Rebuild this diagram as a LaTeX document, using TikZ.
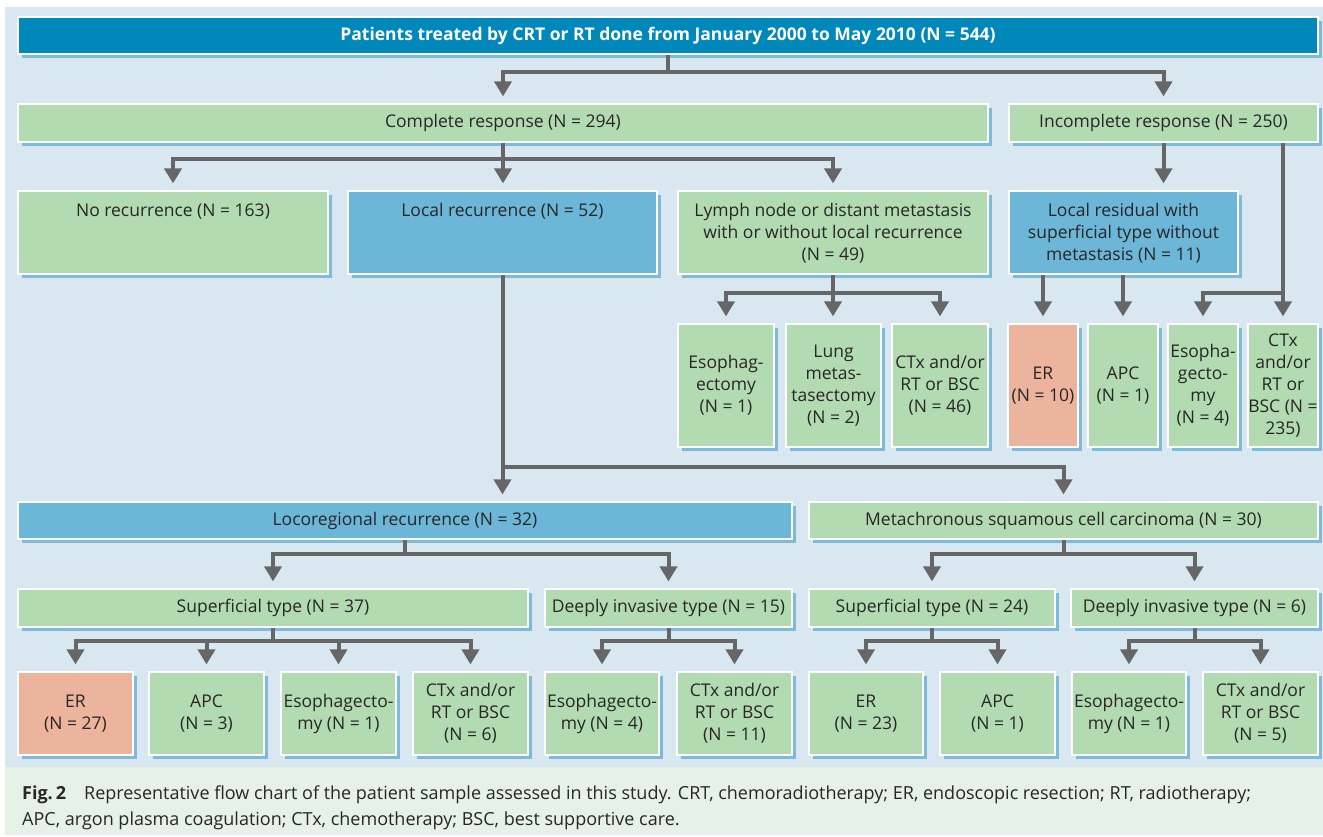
\documentclass[tikz,border=0pt]{standalone}
\usepackage{fontspec}
\setmainfont{Open Sans}
\usetikzlibrary{arrows.meta,shadows}
\definecolor{topblue}{RGB}{0,136,186}
\definecolor{boxgreen}{RGB}{178,219,178}
\definecolor{boxblue}{RGB}{108,183,216}
\definecolor{boxsalmon}{RGB}{236,180,157}
\definecolor{panelblue}{RGB}{216,231,240}
\definecolor{capgreen}{RGB}{230,242,229}
\definecolor{shadowblue}{RGB}{88,168,210}
\definecolor{arrgray}{RGB}{102,102,102}
\definecolor{txtgray}{RGB}{40,38,38}
\newcommand{\toptxt}[2]{\parbox[c][58pt][t]{#1}{\centering #2}}

\begin{document}
\begin{tikzpicture}[x=1pt,y=-1pt,
  font=\fontsize{17.5}{22}\selectfont, text=txtgray,
  cell/.style={draw=white, line width=1.2pt, align=center, inner sep=0pt,
    drop shadow={shadow xshift=4pt, shadow yshift=-4pt, fill=shadowblue, opacity=.7}},
  grnbox/.style={cell, fill=boxgreen},
  bluebox/.style={cell, fill=boxblue},
  salbox/.style={cell, fill=boxsalmon},
  topbox/.style={cell, fill=topblue, text=white, font=\fontsize{17.5}{22}\selectfont\bfseries},
  lnk/.style={draw=arrgray, line width=4pt},
  arr/.style={lnk, -{Triangle[width=17pt,length=15pt]}, shorten >=7pt}]

\useasboundingbox (0,0) rectangle (1323,837);
\fill[white] (0,0) rectangle (1323,837);
\fill[panelblue] (5,7) rectangle (1323,767);
\fill[capgreen] (5,767) rectangle (1323,835);

% first rows
\node[topbox, minimum width=1300pt, minimum height=37pt] (top) at (668,35.5)
  {Patients treated by CRT or RT done from January 2000 to May 2010 (N = 544)};
\node[grnbox, minimum width=970pt, minimum height=38pt] (cr) at (503,123) {Complete response (N = 294)};
\node[grnbox, minimum width=309pt, minimum height=38pt] (ir) at (1163.5,123) {Incomplete response (N = 250)};

\node[grnbox, minimum width=310pt, minimum height=83pt] (norec) at (173,232.5)
  {\toptxt{300pt}{No recurrence (N = 163)}};
\node[bluebox, minimum width=309pt, minimum height=83pt] (locrec) at (502.5,232.5)
  {\toptxt{300pt}{Local recurrence (N = 52)}};
\node[grnbox, minimum width=310pt, minimum height=83pt] (lymph) at (833,232.5)
  {\toptxt{300pt}{Lymph node or distant metastasis\\with or without local recurrence\\(N = 49)}};
\node[bluebox, minimum width=229pt, minimum height=83pt] (resid) at (1123.5,232.5)
  {\toptxt{225pt}{Local residual with\\superficial type without\\metastasis (N = 11)}};

% treatments after lymph node / residual
\node[grnbox, minimum width=96pt, minimum height=123pt] (esoA) at (726,385.5) {Esophag-\\ectomy\\(N = 1)};
\node[grnbox, minimum width=95pt, minimum height=123pt] (lung) at (833.5,385.5) {Lung\\metas-\\tasectomy\\(N = 2)};
\node[grnbox, minimum width=96pt, minimum height=123pt] (ctxA) at (940,385.5) {CTx and/or\\RT or BSC\\(N = 46)};
\node[salbox, minimum width=70pt, minimum height=123pt] (erA) at (1043,385.5) {ER\\(N = 10)};
\node[grnbox, minimum width=70pt, minimum height=123pt] (apcA) at (1123,385.5) {APC\\(N = 1)};
\node[grnbox, minimum width=70pt, minimum height=123pt] (esoB) at (1203,385.5) {Esopha-\\gecto-\\my\\(N = 4)};
\node[grnbox, minimum width=70pt, minimum height=123pt] (ctxB) at (1283,385.5) {CTx\\and/or\\RT or\\BSC (N =\\235)};

% recurrence rows
\node[bluebox, minimum width=774pt, minimum height=37pt] (loco) at (405,520.5) {Locoregional recurrence (N = 32)};
\node[grnbox, minimum width=509pt, minimum height=37pt] (meta) at (1063.5,520.5) {Metachronous squamous cell carcinoma (N = 30)};

\node[grnbox, minimum width=510pt, minimum height=38pt] (sup37) at (273,608) {Superficial type (N = 37)};
\node[grnbox, minimum width=247pt, minimum height=38pt] (deep15) at (668.5,608) {Deeply invasive type (N = 15)};
\node[grnbox, minimum width=246pt, minimum height=38pt] (sup24) at (932,608) {Superficial type (N = 24)};
\node[grnbox, minimum width=247pt, minimum height=38pt] (deep6) at (1194.5,608) {Deeply invasive type (N = 6)};

\node[salbox, minimum width=115pt, minimum height=83pt] (er27) at (75.5,713.5) {ER\\(N = 27)};
\node[grnbox, minimum width=115pt, minimum height=83pt] (apc3) at (206.5,713.5) {APC\\(N = 3)};
\node[grnbox, minimum width=115pt, minimum height=83pt] (eso1) at (338.5,713.5) {Esophagecto-\\my (N = 1)};
\node[grnbox, minimum width=115pt, minimum height=83pt] (ctx6) at (470.5,713.5) {CTx and/or\\RT or BSC\\(N = 6)};
\node[grnbox, minimum width=114pt, minimum height=83pt] (eso4) at (602,713.5) {Esophagecto-\\my (N = 4)};
\node[grnbox, minimum width=115pt, minimum height=83pt] (ctx11) at (734.5,713.5) {CTx and/or\\RT or BSC\\(N = 11)};
\node[grnbox, minimum width=114pt, minimum height=83pt] (er23) at (866,713.5) {ER\\(N = 23)};
\node[grnbox, minimum width=115pt, minimum height=83pt] (apc1) at (997.5,713.5) {APC\\(N = 1)};
\node[grnbox, minimum width=114pt, minimum height=83pt] (eso1b) at (1129,713.5) {Esophagecto-\\my (N = 1)};
\node[grnbox, minimum width=115pt, minimum height=83pt] (ctx5) at (1260.5,713.5) {CTx and/or\\RT or BSC\\(N = 5)};

% caption
\node[anchor=north west, align=left, inner sep=0pt, font=\fontsize{18}{26}\selectfont] (cap) at (22,786)
  {\textbf{Fig.\,2}\quad Representative flow chart of the patient sample assessed in this study. CRT, chemoradiotherapy; ER, endoscopic resection; RT, radiotherapy;\\
   APC, argon plasma coagulation; CTx, chemotherapy; BSC, best supportive care.};

% connectors
\coordinate (busA) at (0,72);
\coordinate (busB) at (0,159);
\coordinate (busC) at (0,293);
\coordinate (busL) at (0,467);
\coordinate (busE) at (0,554);
\coordinate (busF) at (0,641);

\draw[arr] (top) -- (top |- busA) -| (cr);
\draw[arr] (top |- busA) -| (ir);

\draw[arr] (cr) -- (cr |- busB) -| (norec);
\draw[arr] (cr |- busB) -| (lymph);
\draw[arr] (cr |- busB) -- (cr |- locrec.north);
\draw[arr] (ir) -- (ir |- resid.north);
\draw[arr] (ctxB |- ir.south) -- (ctxB |- busC) -| (esoB);
\draw[arr] (ctxB |- busC) -- (ctxB);

\draw[arr] (lymph) -- (lymph |- busC) -| (esoA);
\draw[arr] (lymph |- busC) -| (ctxA);
\draw[arr] (lymph |- busC) -- (lymph |- lung.north);
\draw[arr] (erA |- resid.south) -- (erA);
\draw[arr] (apcA |- resid.south) -- (apcA);

\draw[arr] (locrec) -- (locrec |- busL) -| (meta);
\draw[arr] (locrec |- busL) -- (locrec |- loco.north);

\draw[arr] (loco) -- (loco |- busE) -| (sup37);
\draw[arr] (loco |- busE) -| (deep15);
\draw[arr] (meta) -- (meta |- busE) -| (sup24);
\draw[arr] (meta |- busE) -| (deep6);

\draw[arr] (sup37) -- (sup37 |- busF) -| (er27);
\draw[arr] (sup37 |- busF) -| (apc3);
\draw[arr] (sup37 |- busF) -| (eso1);
\draw[arr] (sup37 |- busF) -| (ctx6);
\draw[arr] (deep15) -- (deep15 |- busF) -| (eso4);
\draw[arr] (deep15 |- busF) -| (ctx11);
\draw[arr] (sup24) -- (sup24 |- busF) -| (er23);
\draw[arr] (sup24 |- busF) -| (apc1);
\draw[arr] (deep6) -- (deep6 |- busF) -| (eso1b);
\draw[arr] (deep6 |- busF) -| (ctx5);
\end{tikzpicture}
\end{document}
